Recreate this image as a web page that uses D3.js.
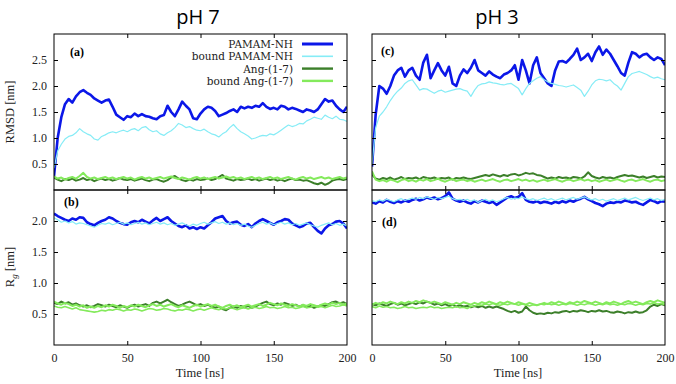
<!DOCTYPE html>
<html lang="en">
<head>
<meta charset="utf-8">
<title>RMSD and Rg, pH 7 / pH 3</title>
<script src="https://cdn.jsdelivr.net/npm/d3@7"></script>
<style>
  body { margin: 0; background: #fff; }
  svg { display: block; }
</style>
</head>
<body>
<script>
// time grid, every 2.5 ns
var time = d3.range(0, 200.001, 2.5);

var seriesNames = ["PAMAM-NH", "bound PAMAM-NH", "Ang-(1-7)", "bound Ang-(1-7)"];
var timeTicks = [0, 50, 100, 150, 200];
var rmsdTicks = [0.5, 1.0, 1.5, 2.0, 2.5];
var rgTicks = [0.5, 1.0, 1.5, 2.0];

// (a) RMSD, pH 7
var rmsdPamam7 = [0.26,1.0,1.4,1.65,1.75,1.68,1.8,1.88,1.92,1.87,1.83,1.76,1.72,1.68,1.72,1.74,1.6,1.45,1.4,1.35,
  1.42,1.4,1.47,1.42,1.46,1.42,1.41,1.38,1.36,1.42,1.44,1.62,1.5,1.42,1.55,1.7,1.62,1.55,1.38,1.36,
  1.47,1.55,1.6,1.58,1.52,1.42,1.45,1.48,1.52,1.55,1.5,1.6,1.57,1.6,1.58,1.62,1.6,1.67,1.6,1.56,
  1.58,1.55,1.62,1.6,1.55,1.58,1.56,1.53,1.5,1.55,1.53,1.5,1.55,1.65,1.75,1.7,1.72,1.62,1.55,1.5,1.6];
var rmsdBoundPamam7 = [0.42,0.75,0.88,0.98,1.03,1.05,1.1,1.18,1.12,1.08,1.05,0.98,0.96,1.03,1.06,1.1,1.12,1.1,1.13,1.15,
  1.12,1.16,1.18,1.14,1.2,1.22,1.16,1.12,1.14,1.08,1.05,1.1,1.14,1.2,1.28,1.25,1.2,1.22,1.18,1.15,
  1.14,1.17,1.12,1.08,1.06,1.02,1.08,1.12,1.2,1.26,1.18,1.12,1.08,1.04,0.98,1.0,1.03,1.05,1.04,1.08,
  1.06,1.1,1.15,1.2,1.25,1.22,1.24,1.28,1.27,1.33,1.36,1.4,1.38,1.36,1.44,1.4,1.37,1.42,1.36,1.35,1.32];
var rmsdAng7 = [0.24,0.2,0.17,0.21,0.19,0.22,0.18,0.2,0.23,0.19,0.21,0.17,0.2,0.22,0.19,0.21,0.18,0.2,0.23,0.2,
  0.19,0.21,0.18,0.2,0.22,0.19,0.17,0.2,0.21,0.18,0.16,0.19,0.24,0.27,0.22,0.19,0.17,0.2,0.18,0.21,
  0.19,0.2,0.22,0.19,0.21,0.25,0.29,0.22,0.2,0.18,0.21,0.19,0.2,0.22,0.19,0.21,0.18,0.2,0.22,0.19,
  0.21,0.18,0.2,0.17,0.2,0.22,0.19,0.2,0.18,0.19,0.16,0.13,0.11,0.14,0.1,0.13,0.18,0.2,0.21,0.19,0.21];
var rmsdBoundAng7 = [0.26,0.22,0.24,0.2,0.23,0.25,0.22,0.27,0.33,0.25,0.22,0.24,0.21,0.23,0.25,0.22,0.24,0.21,0.23,0.25,
  0.22,0.24,0.2,0.23,0.25,0.22,0.24,0.21,0.23,0.25,0.22,0.24,0.26,0.23,0.21,0.24,0.22,0.2,0.23,0.25,
  0.22,0.24,0.21,0.23,0.25,0.22,0.24,0.26,0.23,0.25,0.22,0.24,0.21,0.23,0.25,0.22,0.24,0.21,0.23,0.25,
  0.22,0.24,0.21,0.23,0.25,0.22,0.2,0.23,0.25,0.22,0.24,0.21,0.23,0.25,0.22,0.24,0.21,0.23,0.25,0.22,0.24];

// (c) RMSD, pH 3
var rmsdPamam3 = [0.45,1.45,2.0,1.95,1.85,2.0,2.2,2.3,2.35,2.18,2.3,2.35,2.2,2.12,2.45,2.6,2.15,2.3,2.44,2.3,
  2.2,2.37,2.05,2.0,2.2,2.32,2.25,2.35,2.5,2.3,2.25,2.2,2.28,2.22,2.18,2.15,2.22,2.25,2.3,2.4,
  2.12,2.5,2.3,2.05,2.4,2.55,2.25,2.15,2.05,2.0,2.3,2.47,2.48,2.45,2.52,2.6,2.72,2.5,2.55,2.62,
  2.48,2.65,2.76,2.6,2.7,2.62,2.5,2.38,2.25,2.2,2.45,2.65,2.62,2.55,2.6,2.62,2.55,2.5,2.55,2.52,2.4];
var rmsdBoundPamam3 = [0.5,1.2,1.42,1.5,1.6,1.72,1.82,1.9,1.96,2.05,2.1,2.12,2.02,1.92,1.95,1.94,1.9,1.86,1.9,1.92,
  1.88,1.9,1.92,1.94,1.95,1.92,1.9,1.8,1.92,2.01,2.04,2.05,2.08,2.06,2.05,2.03,2.02,2.04,2.05,2.0,
  1.95,1.83,1.95,2.05,2.1,2.15,2.18,2.12,2.08,2.05,2.03,2.01,2.0,1.98,2.0,2.02,1.97,1.92,1.8,1.9,
  2.02,2.1,2.13,2.12,2.1,2.12,2.05,2.0,1.92,2.05,2.18,2.24,2.26,2.28,2.25,2.22,2.18,2.15,2.17,2.14,2.12];
var rmsdAng3 = [0.3,0.22,0.2,0.23,0.21,0.24,0.2,0.22,0.25,0.21,0.23,0.22,0.24,0.21,0.25,0.23,0.22,0.24,0.21,0.23,
  0.22,0.24,0.2,0.23,0.22,0.24,0.22,0.21,0.23,0.25,0.27,0.29,0.27,0.3,0.28,0.26,0.29,0.27,0.3,0.31,
  0.28,0.3,0.33,0.31,0.32,0.29,0.28,0.25,0.22,0.24,0.22,0.25,0.23,0.24,0.22,0.25,0.24,0.22,0.26,0.34,
  0.27,0.24,0.22,0.25,0.23,0.24,0.22,0.25,0.27,0.29,0.27,0.28,0.26,0.24,0.26,0.23,0.25,0.27,0.24,0.26,0.25];
var rmsdBoundAng3 = [0.36,0.2,0.17,0.19,0.16,0.2,0.18,0.15,0.19,0.21,0.17,0.19,0.16,0.2,0.18,0.21,0.17,0.19,0.22,0.18,
  0.16,0.19,0.21,0.17,0.19,0.2,0.17,0.19,0.16,0.18,0.2,0.17,0.19,0.21,0.18,0.16,0.19,0.2,0.17,0.19,
  0.21,0.18,0.2,0.17,0.19,0.16,0.18,0.2,0.17,0.19,0.21,0.18,0.16,0.19,0.2,0.17,0.19,0.21,0.18,0.2,
  0.17,0.19,0.16,0.18,0.2,0.17,0.19,0.21,0.18,0.16,0.19,0.2,0.17,0.19,0.21,0.18,0.16,0.19,0.2,0.17,0.19];

// (b) Rg, pH 7
var rgPamam7 = [2.12,2.08,2.05,2.02,2.0,2.04,2.02,2.06,2.05,1.98,1.95,1.93,1.97,2.0,2.02,2.06,2.04,2.0,1.97,1.95,
  1.94,1.98,2.0,1.98,2.02,1.99,1.96,2.01,2.05,2.0,2.03,2.06,2.0,1.96,1.92,1.9,1.93,1.88,1.9,1.87,
  1.9,1.88,1.93,1.98,2.04,2.06,2.08,2.0,1.96,1.98,1.99,1.94,1.92,1.95,1.9,1.96,2.0,2.03,2.0,1.97,
  1.94,1.98,2.0,2.03,2.02,1.96,1.93,1.9,1.92,1.96,1.97,1.9,1.84,1.8,1.88,1.93,1.95,1.99,2.0,1.96,1.88];
var rgBoundPamam7 = [2.05,2.02,1.98,2.0,1.97,1.99,1.95,1.97,1.96,1.94,1.92,1.9,1.93,1.96,1.95,1.97,1.94,1.96,1.98,1.95,
  1.97,1.94,1.96,1.98,1.95,1.97,1.94,1.96,1.98,1.95,1.97,1.94,1.96,1.93,1.95,1.97,1.94,1.92,1.95,1.93,
  1.96,1.98,1.95,1.97,1.99,1.96,1.98,1.95,1.97,1.94,1.96,1.93,1.95,1.92,1.9,1.93,1.96,1.98,1.95,1.97,
  1.94,1.96,1.98,1.95,1.97,1.94,1.96,1.93,1.95,1.97,1.94,1.92,1.9,1.93,1.95,1.97,1.94,1.96,1.93,1.95,1.92];
var rgAng7 = [0.68,0.66,0.7,0.67,0.69,0.65,0.67,0.64,0.62,0.64,0.61,0.63,0.66,0.64,0.62,0.65,0.63,0.61,0.64,0.62,
  0.6,0.63,0.65,0.62,0.64,0.66,0.63,0.68,0.7,0.67,0.7,0.73,0.69,0.66,0.63,0.65,0.68,0.7,0.67,0.64,
  0.66,0.63,0.65,0.62,0.6,0.62,0.58,0.56,0.6,0.62,0.6,0.63,0.61,0.63,0.6,0.62,0.65,0.68,0.7,0.66,
  0.64,0.67,0.65,0.68,0.66,0.63,0.65,0.62,0.64,0.61,0.63,0.6,0.62,0.64,0.63,0.66,0.69,0.7,0.67,0.69,0.66];
var rgBoundAng7 = [0.7,0.67,0.65,0.68,0.66,0.63,0.65,0.62,0.64,0.6,0.62,0.6,0.63,0.61,0.64,0.62,0.65,0.63,0.6,0.63,
  0.61,0.64,0.62,0.65,0.63,0.61,0.64,0.66,0.63,0.65,0.62,0.64,0.66,0.63,0.61,0.64,0.62,0.6,0.63,0.65,
  0.62,0.64,0.66,0.63,0.65,0.62,0.6,0.63,0.65,0.62,0.64,0.61,0.63,0.65,0.62,0.64,0.66,0.63,0.65,0.68,
  0.66,0.64,0.67,0.65,0.63,0.66,0.64,0.62,0.65,0.63,0.66,0.64,0.62,0.65,0.67,0.65,0.68,0.66,0.68,0.65,0.67];
var rgBoundAng7b = [0.63,0.61,0.6,0.62,0.6,0.58,0.6,0.57,0.56,0.55,0.54,0.53,0.54,0.56,0.55,0.57,0.56,0.58,0.57,0.55,
  0.57,0.56,0.58,0.57,0.55,0.57,0.59,0.58,0.56,0.57,0.59,0.58,0.56,0.55,0.57,0.56,0.58,0.57,0.55,0.57,
  0.58,0.56,0.58,0.6,0.58,0.57,0.59,0.58,0.6,0.59,0.57,0.59,0.6,0.58,0.6,0.61,0.59,0.6,0.62,0.6,
  0.61,0.59,0.6,0.62,0.6,0.61,0.59,0.6,0.62,0.6,0.61,0.63,0.61,0.62,0.6,0.62,0.64,0.62,0.63,0.65,0.63];

// (d) Rg, pH 3
var rgPamam3 = [2.3,2.28,2.32,2.3,2.34,2.31,2.29,2.32,2.3,2.33,2.31,2.34,2.36,2.33,2.35,2.38,2.36,2.38,2.35,2.37,
  2.4,2.46,2.36,2.33,2.31,2.33,2.3,2.28,2.32,2.3,2.33,2.31,2.29,2.31,2.26,2.3,2.34,2.38,2.4,2.37,
  2.39,2.45,2.34,2.31,2.3,2.32,2.29,2.31,2.3,2.28,2.31,2.29,2.32,2.3,2.33,2.31,2.34,2.36,2.39,2.35,
  2.32,2.29,2.27,2.24,2.28,2.3,2.29,2.31,2.3,2.33,2.32,2.3,2.31,2.28,2.26,2.3,2.34,2.32,2.29,2.32,2.31];
var rgBoundPamam3 = [2.33,2.31,2.34,2.32,2.35,2.33,2.31,2.34,2.36,2.33,2.35,2.37,2.35,2.38,2.36,2.39,2.37,2.35,2.38,2.36,
  2.38,2.4,2.36,2.34,2.35,2.33,2.35,2.32,2.34,2.3,2.33,2.35,2.32,2.34,2.31,2.33,2.36,2.38,2.35,2.37,
  2.36,2.39,2.36,2.34,2.36,2.33,2.35,2.37,2.34,2.36,2.33,2.35,2.37,2.34,2.36,2.38,2.35,2.37,2.39,2.36,
  2.34,2.36,2.33,2.35,2.32,2.34,2.36,2.33,2.35,2.37,2.34,2.36,2.38,2.35,2.33,2.35,2.37,2.34,2.36,2.33,2.35];
var rgAng3 = [0.66,0.64,0.67,0.65,0.63,0.66,0.68,0.65,0.67,0.64,0.66,0.68,0.66,0.69,0.67,0.7,0.68,0.65,0.67,0.64,
  0.66,0.63,0.65,0.62,0.64,0.62,0.63,0.61,0.63,0.61,0.63,0.6,0.62,0.6,0.62,0.6,0.58,0.55,0.53,0.55,
  0.52,0.54,0.62,0.56,0.52,0.5,0.51,0.5,0.52,0.51,0.53,0.52,0.54,0.55,0.53,0.55,0.54,0.56,0.55,0.53,
  0.55,0.54,0.56,0.54,0.55,0.53,0.52,0.54,0.53,0.51,0.53,0.52,0.54,0.52,0.53,0.56,0.62,0.65,0.63,0.66,0.64];
var rgBoundAng3 = [0.65,0.68,0.66,0.69,0.67,0.7,0.68,0.66,0.69,0.67,0.7,0.68,0.71,0.69,0.72,0.7,0.68,0.7,0.68,0.66,
  0.69,0.67,0.65,0.68,0.66,0.69,0.67,0.65,0.68,0.66,0.69,0.67,0.7,0.68,0.66,0.69,0.67,0.7,0.68,0.66,
  0.69,0.67,0.65,0.68,0.66,0.64,0.66,0.68,0.66,0.69,0.67,0.7,0.68,0.66,0.69,0.67,0.7,0.68,0.71,0.69,
  0.67,0.7,0.68,0.66,0.69,0.67,0.7,0.68,0.66,0.69,0.71,0.68,0.7,0.68,0.66,0.69,0.71,0.69,0.72,0.7,0.68];
var rgBoundAng3b = [0.62,0.6,0.63,0.61,0.62,0.6,0.61,0.59,0.6,0.62,0.6,0.61,0.59,0.6,0.61,0.6,0.62,0.6,0.61,0.59,
  0.6,0.61,0.6,0.62,0.6,0.61,0.59,0.62,0.63,0.65,0.64,0.66,0.65,0.67,0.65,0.64,0.66,0.65,0.67,0.66,
  0.64,0.66,0.65,0.63,0.65,0.64,0.66,0.65,0.67,0.65,0.66,0.64,0.66,0.65,0.67,0.66,0.64,0.66,0.65,0.67,
  0.66,0.64,0.66,0.65,0.67,0.65,0.66,0.64,0.66,0.65,0.67,0.66,0.64,0.66,0.65,0.67,0.66,0.68,0.66,0.67,0.65];

// look of the four series (same order as seriesNames)
var colors = ["#0b17e8", "#86ecf6", "#3c7f2a", "#84ea5c"];
var widths = [2.6, 1.2, 2.0, 2.0];

var W = 676, H = 384;
var colX = [54, 372], panelW = 293;
var rowY = [34, 190], rowH = [156, 155];

var svg = d3.select("body").append("svg")
  .attr("width", W).attr("height", H);

var serif = "Liberation Serif, DejaVu Serif, serif";
var legendFont = "DejaVu Serif, Liberation Serif, serif";

var panels = [
  { label: "(a)", col: 0, row: 0, lx: 70, ly: 56, ymax: 3.0, ticks: rmsdTicks,
    lines: [rmsdPamam7, rmsdBoundPamam7, rmsdAng7, rmsdBoundAng7] },
  { label: "(c)", col: 1, row: 0, lx: 381, ly: 55, ymax: 3.0, ticks: rmsdTicks,
    lines: [rmsdPamam3, rmsdBoundPamam3, rmsdAng3, rmsdBoundAng3] },
  { label: "(b)", col: 0, row: 1, lx: 64, ly: 206, ymax: 2.5, ticks: rgTicks,
    lines: [rgPamam7, rgBoundPamam7, rgAng7, rgBoundAng7], extra: rgBoundAng7b },
  { label: "(d)", col: 1, row: 1, lx: 382, ly: 226, ymax: 2.5, ticks: rgTicks,
    lines: [rgPamam3, rgBoundPamam3, rgAng3, rgBoundAng3], extra: rgBoundAng3b }
];

svg.append("defs").selectAll("clipPath")
  .data(panels).enter().append("clipPath")
  .attr("id", function(d, i) { return "clip" + i; })
  .append("rect")
  .attr("width", panelW)
  .attr("height", function(d) { return rowH[d.row]; });

panels.forEach(function(p, pi) {
  var x0 = colX[p.col], y0 = rowY[p.row], h = rowH[p.row];
  var xScale = d3.scaleLinear().domain([0, 200]).range([0, panelW]);
  var yScale = d3.scaleLinear().domain([0, p.ymax]).range([h, 0]);

  var g = svg.append("g").attr("transform", "translate(" + x0 + "," + y0 + ")");

  var line = d3.line()
    .x(function(d, i) { return xScale(time[i]); })
    .y(function(d) { return yScale(d); });

  var plot = g.append("g").attr("clip-path", "url(#clip" + pi + ")");
  p.lines.forEach(function(vals, k) {
    plot.append("path")
      .attr("d", line(vals))
      .attr("fill", "none")
      .attr("stroke", colors[k])
      .attr("stroke-width", widths[k])
      .attr("stroke-linejoin", "round");
    if (k === 3 && p.extra) {
      plot.append("path")
        .attr("d", line(p.extra))
        .attr("fill", "none")
        .attr("stroke", colors[3])
        .attr("stroke-width", 1.6)
        .attr("stroke-linejoin", "round");
    }
  });

  // frame
  g.append("rect")
    .attr("width", panelW).attr("height", h)
    .attr("fill", "none").attr("stroke", "#000").attr("stroke-width", 1);

  // y axes, ticks inward
  var yLeft = g.append("g")
    .call(d3.axisLeft(yScale).tickValues(p.ticks).tickSize(-4).tickPadding(7)
      .tickFormat(p.col === 0 ? d3.format(".1f") : ""));
  var yRight = g.append("g").attr("transform", "translate(" + panelW + ",0)")
    .call(d3.axisRight(yScale).tickValues(p.ticks).tickSize(-4).tickFormat(""));

  // x axes, ticks inward
  var xTop = g.append("g")
    .call(d3.axisTop(xScale).tickValues([50, 100, 150]).tickSize(-4).tickFormat(""));
  var xBottom = g.append("g").attr("transform", "translate(0," + h + ")")
    .call(d3.axisBottom(xScale).tickValues(p.row === 1 ? timeTicks : [50, 100, 150])
      .tickSize(-4).tickPadding(8)
      .tickFormat(p.row === 1 ? d3.format("d") : ""));

  [yLeft, yRight, xTop, xBottom].forEach(function(a) {
    a.attr("font-family", serif).attr("font-size", 12);
    a.select(".domain").remove();
    a.selectAll("line").attr("stroke", "#000");
    a.selectAll("text").attr("fill", "#222");
  });
  if (p.row === 1) {
    xBottom.selectAll(".tick").filter(function(d) { return d === 0 || d === 200; })
      .select("line").remove();
  }

  g.append("text")
    .attr("x", p.lx - x0).attr("y", p.ly - y0)
    .attr("font-family", serif).attr("font-size", 12).attr("font-weight", "bold")
    .text(p.label);
});

// legend in panel (a)
var legend = svg.append("g").attr("font-family", legendFont).attr("font-size", 10.5);
seriesNames.forEach(function(name, k) {
  var by = 48 + k * 12.3;
  legend.append("text")
    .attr("x", 293).attr("y", by)
    .attr("text-anchor", "end").attr("fill", "#222")
    .text(name);
  legend.append("line")
    .attr("x1", 302).attr("x2", 333)
    .attr("y1", by - 4).attr("y2", by - 4)
    .attr("stroke", colors[k]).attr("stroke-width", widths[k] + 0.4);
});

// column titles
svg.append("text").attr("x", 198).attr("y", 24)
  .attr("text-anchor", "middle").attr("font-family", "Open Sans, sans-serif")
  .attr("font-size", 20).text("pH 7");
svg.append("text").attr("x", 497).attr("y", 24)
  .attr("text-anchor", "middle").attr("font-family", "Open Sans, sans-serif")
  .attr("font-size", 20).text("pH 3");

// axis titles
svg.append("text").attr("font-family", serif).attr("font-size", 12.5).attr("fill", "#222")
  .attr("text-anchor", "middle")
  .attr("transform", "translate(14,112) rotate(-90)")
  .text("RMSD [nm]");
var rg = svg.append("text").attr("font-family", serif).attr("font-size", 12.5).attr("fill", "#222")
  .attr("text-anchor", "middle")
  .attr("transform", "translate(14,267) rotate(-90)");
rg.append("tspan").text("R");
rg.append("tspan").attr("font-style", "italic").attr("font-size", 9).attr("dy", 3).text("g");
rg.append("tspan").attr("dy", -3).text(" [nm]");

[200, 518].forEach(function(cx) {
  svg.append("text").attr("x", cx).attr("y", 377)
    .attr("text-anchor", "middle").attr("font-family", serif)
    .attr("font-size", 12.5).attr("fill", "#222")
    .text("Time [ns]");
});
</script>
</body>
</html>
